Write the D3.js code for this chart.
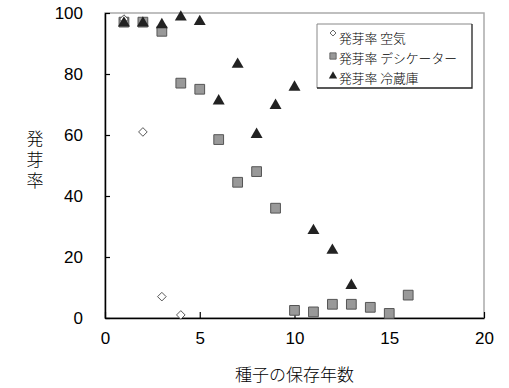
<!DOCTYPE html>
<html>
<head>
<meta charset="utf-8">
<script src="https://cdn.jsdelivr.net/npm/d3@7"></script>
<style>
  body { margin: 0; background: #fff; }
  text { font-family: "Liberation Sans", Arial, sans-serif; fill: #000; }
  .jp { font-family: "Noto Sans CJK JP", sans-serif; font-weight: 300; }
</style>
</head>
<body>
<div id="chart"></div>
<script>
// datos
const seriesNames = ["発芽率 空気", "発芽率 デシケーター", "発芽率 冷蔵庫"];
const airYears = [1, 2, 3, 4];
const airValues = [98, 61, 7, 1];
const desYears = [1, 2, 3, 4, 5, 6, 7, 8, 9, 10, 11, 12, 13, 14, 15, 16];
const desValues = [97, 97, 94, 77, 75, 58.5, 44.5, 48, 36, 2.5, 2, 4.5, 4.5, 3.5, 1.5, 7.5];
const fridgeYears = [1, 2, 3, 4, 5, 6, 7, 8, 9, 10, 11, 12, 13];
const fridgeValues = [97, 97, 96.5, 99, 97.5, 71.5, 83.5, 60.5, 70, 76, 29, 22.5, 11];
const xTicks = [0, 5, 10, 15, 20];
const yTicks = [0, 20, 40, 60, 80, 100];

const width = 509;
const height = 388;
const margins = { top: 13, right: 25, bottom: 70, left: 105 };
const plotW = width - margins.left - margins.right;
const plotH = height - margins.top - margins.bottom;

const svg = d3.select("#chart")
  .append("svg")
  .attr("width", width)
  .attr("height", height);

const g = svg.append("g")
  .attr("transform", `translate(${margins.left}, ${margins.top})`);

const x = d3.scaleLinear().domain([0, 20]).range([0, plotW]);
const y = d3.scaleLinear().domain([0, 100]).range([plotH, 0]);

// borde gris del area
g.append("rect")
  .attr("x", 0).attr("y", 0)
  .attr("width", plotW).attr("height", plotH)
  .attr("fill", "none")
  .attr("stroke", "#aaa")
  .attr("stroke-width", 1.5);

// ejes
const xAxis = g.append("g")
  .attr("transform", `translate(0, ${plotH})`)
  .call(d3.axisBottom(x).tickValues(xTicks).tickSizeInner(-6).tickSizeOuter(0).tickPadding(14));
const yAxis = g.append("g")
  .call(d3.axisLeft(y).tickValues(yTicks).tickSizeInner(-5).tickSizeOuter(0).tickPadding(22));

[xAxis, yAxis].forEach((a) => {
  a.select(".domain").attr("stroke", "#000").attr("stroke-width", 1.5);
  a.selectAll(".tick line").attr("stroke", "#000").attr("stroke-width", 1.2);
  a.selectAll(".tick text")
    .style("font-family", "'Liberation Sans', Arial, sans-serif")
    .style("font-size", "17px")
    .attr("fill", "#000");
});

// titulos de ejes
svg.append("text")
  .attr("class", "jp")
  .attr("x", margins.left + plotW / 2)
  .attr("y", 381)
  .attr("text-anchor", "middle")
  .style("font-size", "17px")
  .text("種子の保存年数");

// titulo vertical (caracteres apilados)
svg.append("text")
  .attr("class", "jp")
  .attr("x", 35)
  .attr("y", 130)
  .style("writing-mode", "vertical-rl")
  .style("text-orientation", "upright")
  .style("letter-spacing", "4px")
  .style("font-size", "17px")
  .text("発芽率");

// marcadores
const symTri = d3.symbol().type(d3.symbolTriangle).size(62);
const symSq = d3.symbol().type(d3.symbolSquare).size(95);
const symDia = (s) => `M0,${-s}L${s},0L0,${s}L${-s},0Z`;

const desData = desYears.map((d, i) => ({ x: d, y: desValues[i] }));
const airData = airYears.map((d, i) => ({ x: d, y: airValues[i] }));
const fridgeData = fridgeYears.map((d, i) => ({ x: d, y: fridgeValues[i] }));

g.selectAll(".des")
  .data(desData)
  .join("path")
  .attr("class", "des")
  .attr("d", symSq)
  .attr("transform", (d) => `translate(${x(d.x)}, ${y(d.y)})`)
  .attr("fill", "#999")
  .attr("stroke", "#555")
  .attr("stroke-width", 1);

g.selectAll(".air")
  .data(airData)
  .join("path")
  .attr("class", "air")
  .attr("d", symDia(4.3))
  .attr("transform", (d) => `translate(${x(d.x)}, ${y(d.y)})`)
  .attr("fill", "#fff")
  .attr("stroke", "#444")
  .attr("stroke-width", 0.9);

g.selectAll(".fridge")
  .data(fridgeData)
  .join("path")
  .attr("class", "fridge")
  .attr("d", symTri)
  .attr("transform", (d) => `translate(${x(d.x)}, ${y(d.y) + 1})`)
  .attr("fill", "#222");

// leyenda
const legend = svg.append("g").attr("transform", "translate(317, 24)");
const lw = 155, lh = 64;
legend.append("rect")
  .attr("width", lw).attr("height", lh)
  .attr("fill", "#fff");
legend.append("path")
  .attr("d", `M0,${lh}V0H${lw}`)
  .attr("fill", "none").attr("stroke", "#888").attr("stroke-width", 1);
legend.append("path")
  .attr("d", `M${lw},0V${lh}H0`)
  .attr("fill", "none").attr("stroke", "#222").attr("stroke-width", 1.3);

const rows = legend.selectAll(".row")
  .data(seriesNames)
  .join("g")
  .attr("class", "row")
  .attr("transform", (_, i) => `translate(0, ${15 + i * 20})`);

rows.append("path")
  .attr("d", (_, i) => i === 0 ? symDia(3)
    : i === 1 ? d3.symbol().type(d3.symbolSquare).size(40)()
    : d3.symbol().type(d3.symbolTriangle).size(30)())
  .attr("transform", (_, i) => `translate(16, ${i === 0 ? -6 : -3})`)
  .attr("fill", (_, i) => ["#fff", "#999", "#222"][i])
  .attr("stroke", (_, i) => ["#444", "#555", "none"][i])
  .attr("stroke-width", 0.8);

rows.append("text")
  .attr("class", "jp")
  .attr("x", 22)
  .attr("y", 0)
  .attr("dy", "0.35em")
  .style("font-size", "12.8px")
  .text((d) => d);
</script>
</body>
</html>
